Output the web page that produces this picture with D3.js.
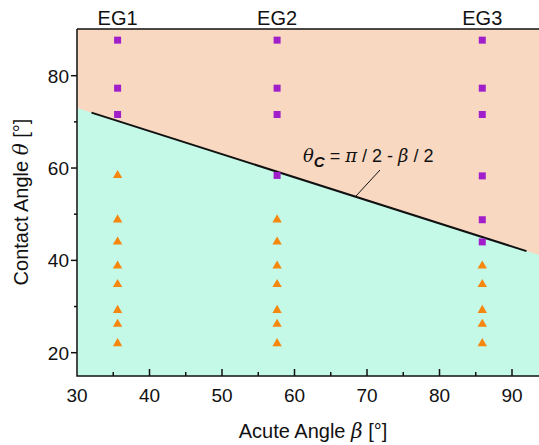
<!DOCTYPE html>
<html>
<head>
<meta charset="utf-8">
<script src="https://cdn.jsdelivr.net/npm/d3@7"></script>
<style>
  body { margin: 0; background: #fff; }
  text { font-family: "Liberation Sans", Arial, sans-serif; fill: #111; }
</style>
</head>
<body>
<div id="chart"></div>
<script>
// groups and their acute angle beta
const groups = ["EG1", "EG2", "EG3"];
const betas = [35.6, 57.6, 85.9];

// contact angles above the critical line (squares)
const squaresEG1 = [87.7, 77.3, 71.6];
const squaresEG2 = [87.7, 77.3, 71.6, 58.4];
const squaresEG3 = [87.7, 77.3, 71.6, 58.3, 48.8, 44.0];

// contact angles below the critical line (triangles)
const trianglesEG1 = [58.4, 48.8, 44.0, 38.8, 34.8, 29.2, 26.2, 22.0];
const trianglesEG2 = [48.8, 44.0, 38.8, 34.8, 29.2, 26.2, 22.0];
const trianglesEG3 = [38.8, 34.8, 29.2, 26.2, 22.0];

// drawn critical line end points [beta, theta]
const critLine = [[32, 72], [92, 42]];

const xTicks = [30, 40, 50, 60, 70, 80, 90];
const yTicks = [20, 40, 60, 80];

const W = 539, H = 445;
const pLeft = 77, pTop = 29, pBottom = 376, pRight = 539;

const svg = d3.select("#chart").append("svg")
    .attr("width", W)
    .attr("height", H);

const x = d3.scaleLinear().domain([30, 90]).range([77, 512]);
const y = d3.scaleLinear().domain([20, 80]).range([352.7, 75.7]);

// line theta = a + b*beta through critLine
const slope = (critLine[1][1] - critLine[0][1]) / (critLine[1][0] - critLine[0][0]);
const lineAt = b => critLine[0][1] + slope * (b - critLine[0][0]);
const xMin = x.invert(pLeft), xMax = x.invert(pRight);
const yMax = y.invert(pTop);

// background regions
svg.append("rect")
    .attr("x", pLeft).attr("y", pTop)
    .attr("width", pRight - pLeft).attr("height", pBottom - pTop)
    .attr("fill", "#c4f8e7");

svg.append("path")
    .attr("d", d3.line()([
        [x(xMin), y(yMax)], [x(xMax), y(yMax)],
        [x(xMax), y(lineAt(xMax))], [x(xMin), y(lineAt(xMin))]
    ]))
    .attr("fill", "#f9d8c1");

// critical line
svg.append("path")
    .attr("d", d3.line().x(d => x(d[0])).y(d => y(d[1]))(critLine))
    .attr("stroke", "#111")
    .attr("stroke-width", 2)
    .attr("fill", "none");

// markers
const squares = [squaresEG1, squaresEG2, squaresEG3];
const triangles = [trianglesEG1, trianglesEG2, trianglesEG3];
const sqSize = 7;
const triSym = d3.symbol().type(d3.symbolTriangle).size(38);

squares.forEach((vals, i) => {
    svg.append("g").selectAll("rect")
        .data(vals)
        .enter()
        .append("rect")
        .attr("x", x(betas[i]) - sqSize / 2)
        .attr("y", d => y(d) - sqSize / 2)
        .attr("width", sqSize)
        .attr("height", sqSize)
        .attr("fill", "#a11fcb");
});

triangles.forEach((vals, i) => {
    svg.append("g").selectAll("path")
        .data(vals)
        .enter()
        .append("path")
        .attr("d", triSym)
        .attr("transform", d => `translate(${x(betas[i])},${y(d)})`)
        .attr("fill", "#f5870f");
});

// group labels
svg.append("g").selectAll("text")
    .data(groups)
    .enter()
    .append("text")
    .attr("x", (d, i) => x(betas[i]))
    .attr("y", 25)
    .attr("text-anchor", "middle")
    .attr("font-size", 20)
    .text(d => d);

// axes frame
svg.append("path")
    .attr("d", `M${pLeft},${pTop}H${pRight}M${pLeft},${pTop}V${pBottom}H${pRight}`)
    .attr("stroke", "#111")
    .attr("stroke-width", 1.5)
    .attr("fill", "none");

// x ticks (inward)
const xMinor = d3.range(35, 95, 10);
svg.append("g").selectAll("line")
    .data(xTicks.slice(1))
    .enter().append("line")
    .attr("x1", d => x(d)).attr("x2", d => x(d))
    .attr("y1", pBottom).attr("y2", pBottom - 7)
    .attr("stroke", "#111").attr("stroke-width", 1.5);
svg.append("g").selectAll("line")
    .data(xMinor)
    .enter().append("line")
    .attr("x1", d => x(d)).attr("x2", d => x(d))
    .attr("y1", pBottom).attr("y2", pBottom - 4)
    .attr("stroke", "#111").attr("stroke-width", 1.5);
svg.append("g").selectAll("text")
    .data(xTicks)
    .enter().append("text")
    .attr("x", d => x(d))
    .attr("y", 402)
    .attr("text-anchor", "middle")
    .attr("font-size", 19)
    .text(d => d);

// y ticks (outward)
const yMinor = [30, 50, 70];
svg.append("g").selectAll("line")
    .data(yTicks)
    .enter().append("line")
    .attr("x1", pLeft).attr("x2", pLeft - 6)
    .attr("y1", d => y(d)).attr("y2", d => y(d))
    .attr("stroke", "#111").attr("stroke-width", 1.5);
svg.append("g").selectAll("line")
    .data(yMinor)
    .enter().append("line")
    .attr("x1", pLeft).attr("x2", pLeft - 3)
    .attr("y1", d => y(d)).attr("y2", d => y(d))
    .attr("stroke", "#111").attr("stroke-width", 1.5);
svg.append("g").selectAll("text")
    .data(yTicks)
    .enter().append("text")
    .attr("x", 69)
    .attr("y", d => y(d) + 7)
    .attr("text-anchor", "end")
    .attr("font-size", 19)
    .text(d => d);

// axis titles
const xt = svg.append("text")
    .attr("x", 313).attr("y", 438)
    .attr("text-anchor", "middle")
    .attr("font-size", 20);
xt.append("tspan").text("Acute Angle ");
xt.append("tspan").attr("font-style", "italic").attr("font-family", "DejaVu Serif").text("β");
xt.append("tspan").text(" [°]");

const yt = svg.append("text")
    .attr("transform", "translate(28,202) rotate(-90)")
    .attr("text-anchor", "middle")
    .attr("font-size", 20);
yt.append("tspan").text("Contact Angle ");
yt.append("tspan").attr("font-style", "italic").attr("font-family", "DejaVu Serif").text("θ");
yt.append("tspan").text(" [°]");

// annotation
const an = svg.append("text")
    .attr("x", 303).attr("y", 162)
    .attr("font-size", 18);
an.append("tspan").attr("font-style", "italic").attr("font-family", "DejaVu Serif").text("θ");
an.append("tspan").attr("font-style", "italic").attr("font-weight", "bold").attr("font-size", 15).attr("dy", 5).text("C");
an.append("tspan").attr("dy", -5).text(" = ");
an.append("tspan").attr("font-style", "italic").attr("font-family", "DejaVu Serif").text("π");
an.append("tspan").text(" / 2 - ");
an.append("tspan").attr("font-style", "italic").attr("font-family", "DejaVu Serif").text("β");
an.append("tspan").text(" / 2");

svg.append("line")
    .attr("x1", 380).attr("y1", 170)
    .attr("x2", 356).attr("y2", 196)
    .attr("stroke", "#111").attr("stroke-width", 1);
</script>
</body>
</html>
